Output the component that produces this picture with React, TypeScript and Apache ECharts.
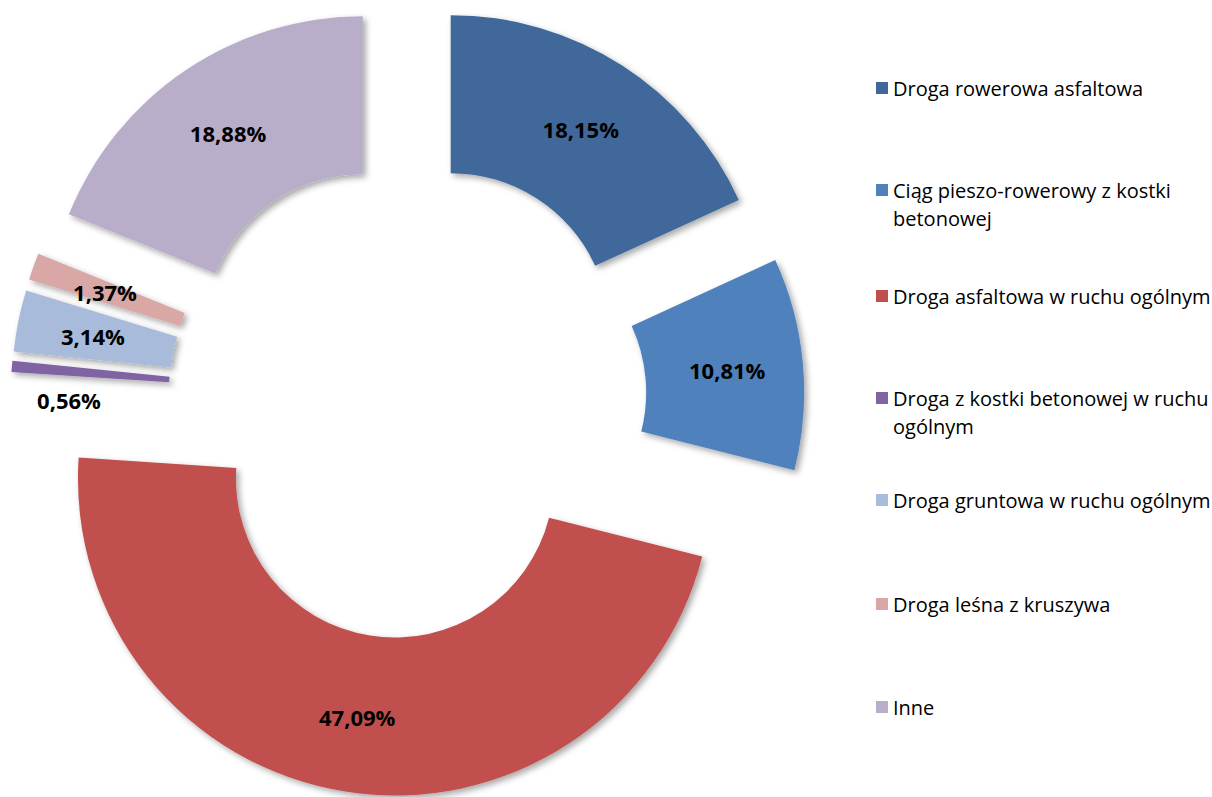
import React, { useEffect, useRef } from "react";
import * as echarts from "echarts";

const categories = [
  "Droga rowerowa asfaltowa",
  "Ciąg pieszo-rowerowy z kostki betonowej",
  "Droga asfaltowa w ruchu ogólnym",
  "Droga z kostki betonowej w ruchu ogólnym",
  "Droga gruntowa w ruchu ogólnym",
  "Droga leśna z kruszywa",
  "Inne",
];
const legendLines = [
  ["Droga rowerowa asfaltowa"],
  ["Ciąg pieszo-rowerowy z kostki", "betonowej"],
  ["Droga asfaltowa w ruchu ogólnym"],
  ["Droga z kostki betonowej w ruchu", "ogólnym"],
  ["Droga gruntowa w ruchu ogólnym"],
  ["Droga leśna z kruszywa"],
  ["Inne"],
];
const values = [18.15, 10.81, 47.09, 0.56, 3.14, 1.37, 18.88];
const colors = ["#3F689A", "#4F81BD", "#C0504D", "#8064A2", "#A9BBDB", "#D8A7A6", "#B8AECA"];
const legendCenters = [88, 190, 296, 398, 500, 604, 707];

const FONT = "'Open Sans', sans-serif";
const LH = 28;
const fmt = (v: number) => v.toFixed(2).replace(".", ",") + "%";

export default function App() {
  const ref = useRef<HTMLDivElement>(null);
  useEffect(() => {
    if (!ref.current) return;
    const chart = echarts.init(ref.current, null, { renderer: "svg" });
    const labelFont = {
      fontFamily: FONT,
      fontWeight: "bold",
      fontSize: 22,
      fill: "#000",
    };
    const option: any = {
      animation: false,
      backgroundColor: "#ffffff",
      color: colors,
      legend: categories.map((name, i) => ({
        data: [name],
        orient: "vertical",
        left: 876,
        top: legendCenters[i] - 42,
        padding: 0,
        itemWidth: 12,
        itemHeight: 12,
        itemGap: 0,
        icon: "rect",
        selectedMode: false,
        formatter: () => "\n" + legendLines[i][0] + "\n" + (legendLines[i][1] || " "),
        itemStyle: { shadowBlur: 0, shadowColor: "transparent", shadowOffsetX: 0, shadowOffsetY: 0 },
        textStyle: {
          fontFamily: FONT,
          fontSize: 20,
          color: "#000",
          lineHeight: LH,
        },
      })),
      graphic: [
        {
          type: "text",
          left: 69,
          top: 400,
          style: {
            ...labelFont,
            text: fmt(values[3]),
            x: 69,
            y: 400,
            align: "center",
            verticalAlign: "middle",
          },
        },
      ].map((g) => ({ type: g.type, style: g.style })),
      series: [
        {
          type: "pie",
          center: [407.5, 399.5],
          radius: [159, 317],
          startAngle: 90,
          clockwise: true,
          selectedMode: "multiple",
          selectedOffset: 80,
          avoidLabelOverlap: false,
          itemStyle: {
            shadowBlur: 6,
            shadowOffsetX: 3,
            shadowOffsetY: 3,
            shadowColor: "rgba(0,0,0,0.35)",
          },
          label: {
            show: true,
            position: "inside",
            fontFamily: FONT,
            fontWeight: "bold",
            fontSize: 22,
            color: "#000",
            formatter: (p: any) => fmt(p.value),
          },
          labelLine: { show: false },
          emphasis: { disabled: true },
          data: categories.map((name, i) => ({
            name,
            value: values[i],
            selected: true,
            label: i === 3 ? { show: false } : undefined,
          })),
        },
      ],
    };
    chart.setOption(option);
    return () => chart.dispose();
  }, []);
  return (
    <div
      ref={ref}
      style={{ position: "fixed", left: 0, top: 0, width: 1212, height: 797 }}
    />
  );
}
